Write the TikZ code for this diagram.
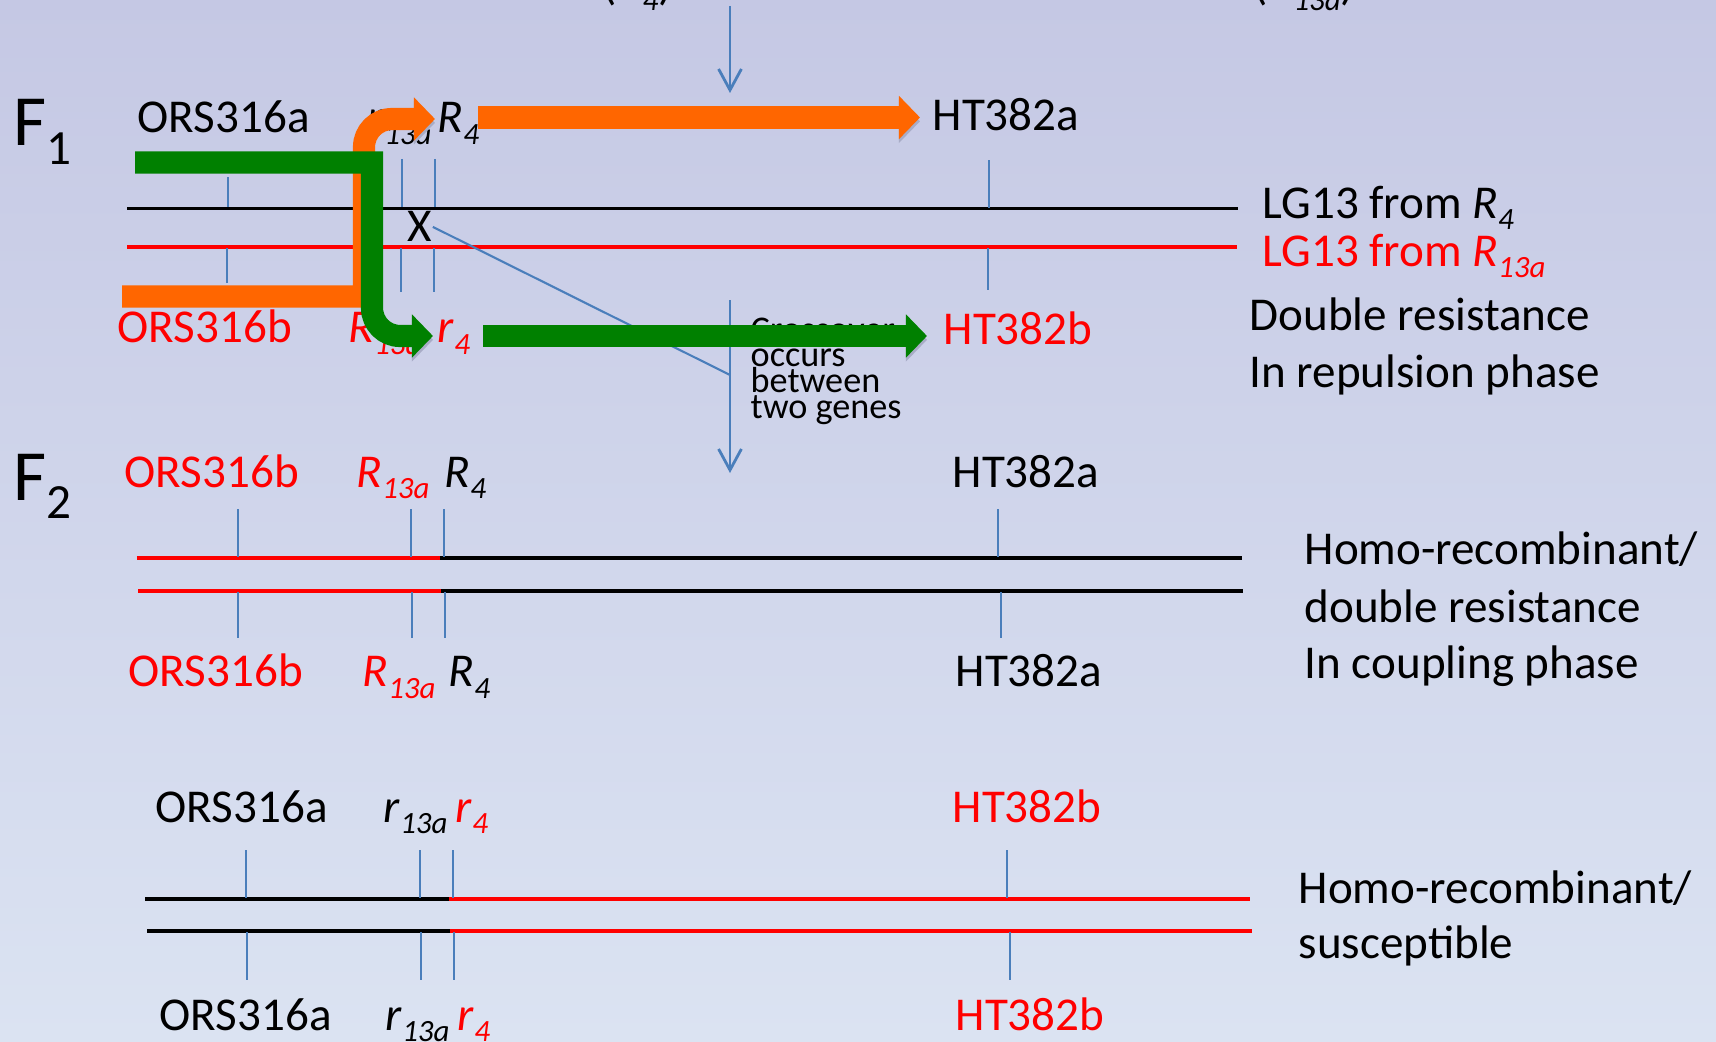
\documentclass[tikz,border=0pt]{standalone}
\usepackage{fontspec}
\setmainfont{Carlito}
\usetikzlibrary{arrows.meta}
\definecolor{bgtop}{RGB}{197,200,228}
\definecolor{bgbot}{RGB}{219,227,242}
\definecolor{tickblue}{RGB}{74,126,187}
\definecolor{bandorange}{RGB}{255,102,0}
\definecolor{bandgreen}{RGB}{0,128,0}
\definecolor{shadowgray}{RGB}{168,172,198}
\newcommand{\msz}{\fontsize{13.4}{16}\selectfont}
\newcommand{\gsub}[2]{\textit{#1}\raisebox{-3.4pt}{\fontsize{8.8}{10}\selectfont\textit{#2}}}
\newcommand{\gen}[1]{{\fontsize{20.5}{24}\selectfont F}\raisebox{-5.3pt}{\fontsize{14}{16}\selectfont #1}}
\tikzset{
  lbl/.style={inner sep=0pt, anchor=base west, font=\msz},
  redlbl/.style={lbl, text=red},
  tick/.style={draw=tickblue, line width=0.5pt},
  chrom/.style={line width=1pt},
  chromtwo/.style={line width=1.2pt},
  band/.style={draw=#1, line width=6.3pt, -{Triangle[length=6pt,width=12pt]},
    preaction={draw=shadowgray, transform canvas={shift={(0pt,-1.1pt)}}}},
  bluearrow/.style={draw=tickblue, line width=0.8pt, -{Straight Barb[length=6pt,width=6.5pt]}},
}
\begin{document}
\begin{tikzpicture}[x=1cm,y=-1cm]
        \shade[top color=bgtop, bottom color=bgbot] (0,0) rectangle (17.16,10.42);
        \useasboundingbox (0,0) rectangle (17.16,10.42);
        % parents (cut off at the top)
        \node[lbl] (pone) at (6.02,-0.01) {(\gsub{R}{4})};
        \node[lbl] (ptwo) at (12.53,-0.01) {(\gsub{R}{13a})};
        \coordinate (topA) at (7.30,0.06);
        \coordinate (topB) at (7.30,0.93);
        \draw[bluearrow] (topA) -- (topB);
        % F1
        \node[lbl] (fone) at (0.13,1.46) {\gen{1}};
        \draw[chrom] (1.27,2.085) -- (12.38,2.085);
        \draw[chrom,red] (1.27,2.47) -- (12.37,2.47);
        \foreach \x/\a/\b in {2.28/1.77/2.07, 4.02/1.59/2.07, 4.35/1.59/2.07, 9.89/1.60/2.08}
            \draw[tick] (\x,\a) -- (\x,\b);
        \foreach \x/\a/\b in {2.27/2.48/2.83, 4.01/2.48/2.92, 4.34/2.48/2.92, 9.88/2.48/2.90}
            \draw[tick] (\x,\a) -- (\x,\b);
        \node[lbl] (orsa) at (1.37,1.32) {ORS316a};
        \node[lbl] (rthirteen) at (3.67,1.33) {\gsub{r}{13a}};
        \node[lbl] (Rfour) at (4.37,1.33) {\gsub{R}{4}};
        \node[lbl] (hta) at (9.32,1.31) {HT382a};
        \node[redlbl] (orsb) at (1.17,3.43) {ORS316b};
        \node[redlbl] (Rthirteen) at (3.48,3.43) {\gsub{R}{13a}};
        \node[redlbl] (rfour) at (4.37,3.43) {\gsub{r}{4}};
        \node[redlbl] (htb) at (9.43,3.44) {HT382b};
        \node[lbl] (xmark) at (4.07,2.42) {X};
        \node[lbl] (lgfour) at (12.62,2.18) {LG13 from \gsub{R}{4}};
        \node[redlbl] (lgthirteen) at (12.62,2.66) {LG13 from \gsub{R}{13a}};
        \node[lbl] (dres) at (12.49,3.30) {Double resistance};
        \node[lbl] (repul) at (12.49,3.87) {In repulsion phase};
        \node[inner sep=0pt, anchor=north west, align=left, font=\fontsize{10.3}{7.3}\selectfont] (xover) at (7.50,3.17) {Crossover\\occurs\\between\\two genes};
        \coordinate (xo) at (7.30,3.75);
        \draw[tickblue, line width=0.6pt] (xmark.east) -- (xo);
        \coordinate (midA) at (7.30,3.00);
        \coordinate (midB) at (7.30,4.73);
        \draw[bluearrow] (midA) -- (midB);
        % bands
        \draw[band=bandorange] (1.22,2.965) -- (3.64,2.965) -- (3.64,1.9) [rounded corners=8pt] -- (3.64,1.19) -- (4.35,1.19);
        \draw[band=bandorange] (4.78,1.175) -- (9.20,1.175);
        \draw[band=bandgreen] (1.35,1.625) -- (3.72,1.625) -- (3.72,2.5) [rounded corners=8pt] -- (3.72,3.36) -- (4.33,3.36);
        \draw[band=bandgreen] (4.83,3.36) -- (9.27,3.36);
        % F2, coupling
        \node[lbl] (ftwo) at (0.13,5.00) {\gen{2}};
        \node[redlbl] (corsb) at (1.24,4.87) {ORS316b};
        \node[redlbl] (cRthirteen) at (3.56,4.87) {\gsub{R}{13a}};
        \node[lbl] (cRfour) at (4.44,4.87) {\gsub{R}{4}};
        \node[lbl] (chta) at (9.52,4.87) {HT382a};
        \draw[chromtwo,red] (1.37,5.58) -- (4.40,5.58);
        \draw[chromtwo] (4.40,5.58) -- (12.42,5.58);
        \draw[chromtwo,red] (1.38,5.91) -- (4.41,5.91);
        \draw[chromtwo] (4.41,5.91) -- (12.43,5.91);
        \foreach \x in {2.38,4.11,4.44,9.98}
            \draw[tick] (\x,5.09) -- (\x,5.57);
        \foreach \x in {2.38,4.12,4.45,10.01}
            \draw[tick] (\x,5.92) -- (\x,6.38);
        \node[redlbl] (corsbb) at (1.28,6.87) {ORS316b};
        \node[redlbl] (cRthirteenb) at (3.62,6.87) {\gsub{R}{13a}};
        \node[lbl] (cRfourb) at (4.48,6.87) {\gsub{R}{4}};
        \node[lbl] (chtab) at (9.55,6.87) {HT382a};
        \node[lbl] (homoa) at (13.04,5.65) {Homo-recombinant/};
        \node[lbl] (dresb) at (13.04,6.22) {double resistance};
        \node[lbl] (coupl) at (13.04,6.78) {In coupling phase};
        % F2, susceptible
        \node[lbl] (sorsa) at (1.55,8.22) {ORS316a};
        \node[lbl] (srthirteen) at (3.83,8.22) {\gsub{r}{13a}};
        \node[redlbl] (srfour) at (4.55,8.22) {\gsub{r}{4}};
        \node[redlbl] (shtb) at (9.52,8.22) {HT382b};
        \draw[chromtwo] (1.45,8.99) -- (4.49,8.99);
        \draw[chromtwo,red] (4.49,8.99) -- (12.50,8.99);
        \draw[chromtwo] (1.47,9.31) -- (4.50,9.31);
        \draw[chromtwo,red] (4.50,9.31) -- (12.52,9.31);
        \foreach \x in {2.46,4.20,4.53,10.07}
            \draw[tick] (\x,8.50) -- (\x,8.98);
        \foreach \x in {2.47,4.21,4.54,10.10}
            \draw[tick] (\x,9.32) -- (\x,9.80);
        \node[lbl] (sorsab) at (1.59,10.30) {ORS316a};
        \node[lbl] (srthirteenb) at (3.85,10.30) {\gsub{r}{13a}};
        \node[redlbl] (srfourb) at (4.57,10.30) {\gsub{r}{4}};
        \node[redlbl] (shtbb) at (9.55,10.30) {HT382b};
        \node[lbl] (homob) at (12.98,9.03) {Homo-recombinant/};
        \node[lbl] (susc) at (12.98,9.58) {susceptible};
\end{tikzpicture}
\end{document}
